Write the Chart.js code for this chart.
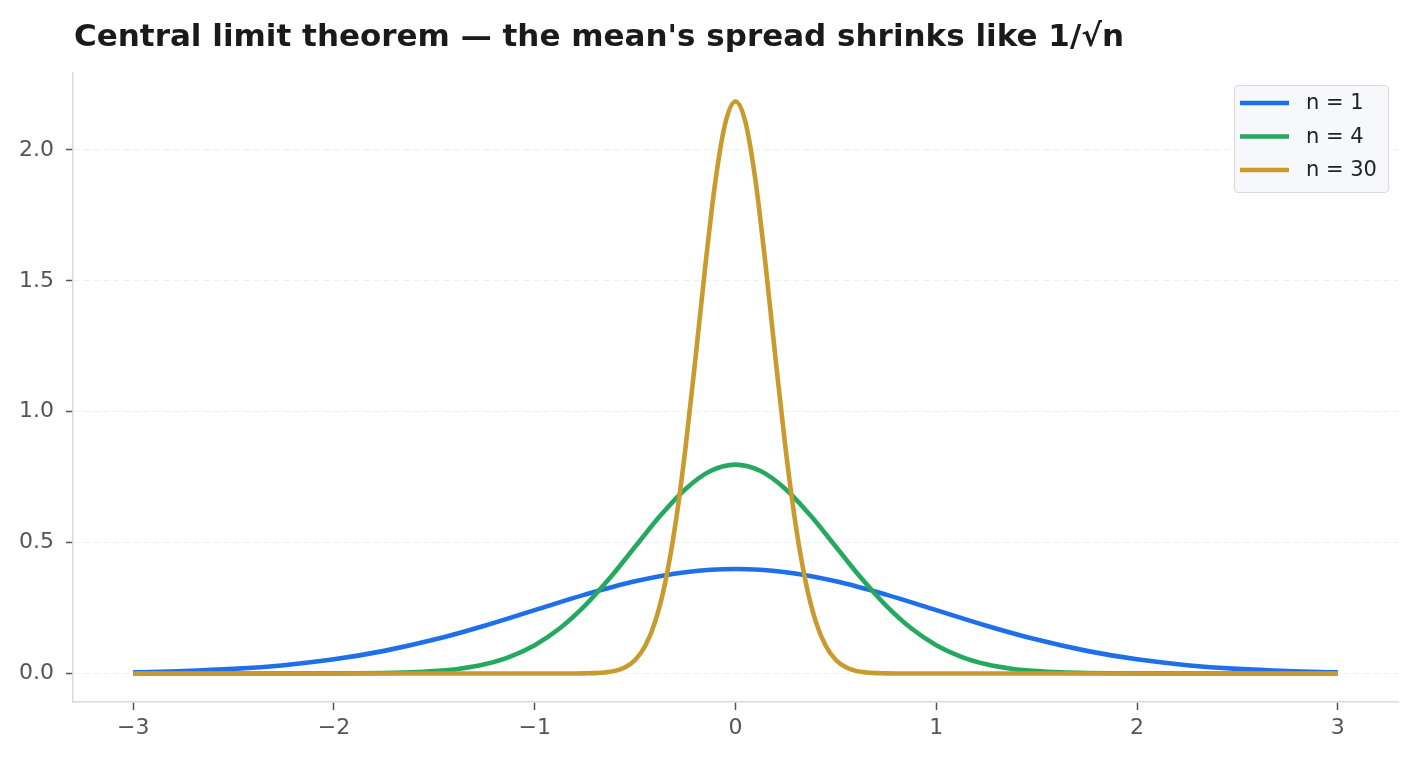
<!DOCTYPE html>
<html>
<head>
<meta charset="utf-8">
<script src="https://cdn.jsdelivr.net/npm/chart.js@4.4.1/dist/chart.umd.min.js"></script>
<style>
html,body{margin:0;padding:0;background:#ffffff;}
#wrap{width:1419px;height:762px;}
</style>
</head>
<body>
<div id="wrap"><canvas id="c" width="1419" height="762"></canvas></div>
<script>
const titleText = "Central limit theorem \u2014 the mean's spread shrinks like 1/\u221An";
const seriesLabels = ["n = 1", "n = 4", "n = 30"];
const xTicks = [-3, -2, -1, 0, 1, 2, 3];
const yTicks = [0.0, 0.5, 1.0, 1.5, 2.0];

const xN1 = [-3, -2.75, -2.5, -2.25, -2, -1.75, -1.5, -1.25, -1, -0.75, -0.5, -0.25, 0,
             0.25, 0.5, 0.75, 1, 1.25, 1.5, 1.75, 2, 2.25, 2.5, 2.75, 3];
const yN1 = [0.0044, 0.0091, 0.0175, 0.0317, 0.0540, 0.0863, 0.1295, 0.1826, 0.2420, 0.3011, 0.3521, 0.3867, 0.3989,
             0.3867, 0.3521, 0.3011, 0.2420, 0.1826, 0.1295, 0.0863, 0.0540, 0.0317, 0.0175, 0.0091, 0.0044];

const xN4 = [-3, -2.5, -2, -1.875, -1.75, -1.625, -1.5, -1.375, -1.25, -1.125, -1, -0.875, -0.75, -0.625, -0.5, -0.375, -0.25, -0.125, 0,
             0.125, 0.25, 0.375, 0.5, 0.625, 0.75, 0.875, 1, 1.125, 1.25, 1.375, 1.5, 1.625, 1.75, 1.875, 2, 2.5, 3];
const yN4 = [0, 0, 0.0003, 0.0007, 0.0017, 0.0041, 0.0089, 0.0182, 0.0350, 0.0635, 0.1080, 0.1725, 0.2590, 0.3653, 0.4839, 0.6022, 0.7041, 0.7734, 0.7979,
             0.7734, 0.7041, 0.6022, 0.4839, 0.3653, 0.2590, 0.1725, 0.1080, 0.0635, 0.0350, 0.0182, 0.0089, 0.0041, 0.0017, 0.0007, 0.0003, 0, 0];

const xN30 = [-3, -2, -1.5, -1, -0.8, -0.75, -0.7, -0.65, -0.6, -0.55, -0.5, -0.45, -0.4, -0.35, -0.3, -0.25, -0.2, -0.15, -0.1, -0.05, 0,
              0.05, 0.1, 0.15, 0.2, 0.25, 0.3, 0.35, 0.4, 0.45, 0.5, 0.55, 0.6, 0.65, 0.7, 0.75, 0.8, 1, 1.5, 2, 3];
const yN30 = [0, 0, 0, 0, 0.0001, 0.0005, 0.0014, 0.0039, 0.0099, 0.0234, 0.0514, 0.1048, 0.1982, 0.3478, 0.5664, 0.8557, 1.1992, 1.5593, 1.8808, 2.1047, 2.1851,
              2.1047, 1.8808, 1.5593, 1.1992, 0.8557, 0.5664, 0.3478, 0.1982, 0.1048, 0.0514, 0.0234, 0.0099, 0.0039, 0.0014, 0.0005, 0.0001, 0, 0, 0, 0];

const colors = ["#1f6fe8", "#25a95e", "#c99a2e"];

function pts(xs, ys) { return xs.map((x, i) => ({x: x, y: ys[i]})); }

const FONT = "'DejaVu Sans', sans-serif";

const titlePlugin = {
  id: 'leftTitle',
  afterDraw(chart) {
    const ctx = chart.ctx;
    ctx.save();
    ctx.font = "bold 31px " + FONT;
    ctx.fillStyle = "#1a1a1a";
    ctx.textBaseline = "alphabetic";
    ctx.textAlign = "left";
    ctx.fillText(titleText, chart.chartArea.left + 1, 46);
    ctx.restore();
  }
};

const legendPlugin = {
  id: 'boxLegend',
  afterDraw(chart) {
    const ctx = chart.ctx;
    const ca = chart.chartArea;
    const w = 154, h = 107;
    const x0 = ca.right - 10 - w, y0 = ca.top + 12;
    ctx.save();
    ctx.beginPath();
    if (ctx.roundRect) ctx.roundRect(x0 + 0.5, y0 + 0.5, w, h, 4); else ctx.rect(x0 + 0.5, y0 + 0.5, w, h);
    ctx.fillStyle = "rgba(245,247,251,0.92)";
    ctx.fill();
    ctx.strokeStyle = "#dcdcdc";
    ctx.lineWidth = 1.2;
    ctx.stroke();
    ctx.font = "21px " + FONT;
    ctx.textBaseline = "middle";
    ctx.textAlign = "left";
    chart.data.datasets.forEach((ds, i) => {
      const cy = y0 + 18 + i * 33.5;
      ctx.strokeStyle = ds.borderColor;
      ctx.lineWidth = 4.5;
      ctx.beginPath();
      ctx.moveTo(x0 + 6, cy);
      ctx.lineTo(x0 + 55, cy);
      ctx.stroke();
      ctx.fillStyle = "#222222";
      ctx.fillText(ds.label, x0 + 72, cy + 1);
    });
    ctx.restore();
  }
};

function fmtX(v) {
  const s = String(Math.abs(v));
  return v < 0 ? "\u2212" + s : s;
}

new Chart(document.getElementById('c'), {
  type: 'line',
  data: {
    datasets: [
      {label: seriesLabels[0], data: pts(xN1, yN1), borderColor: colors[0], order: 3},
      {label: seriesLabels[1], data: pts(xN4, yN4), borderColor: colors[1], order: 2},
      {label: seriesLabels[2], data: pts(xN30, yN30), borderColor: colors[2], order: 1}
    ]
  },
  options: {
    responsive: false,
    animation: false,
    devicePixelRatio: 1,
    parsing: false,
    layout: {padding: {top: 73, right: 21, left: 0, bottom: 0}},
    elements: {
      line: {borderWidth: 4.6, cubicInterpolationMode: 'monotone', fill: false, borderCapStyle: 'butt', borderJoinStyle: 'round'},
      point: {radius: 0, hoverRadius: 0}
    },
    plugins: {legend: {display: false}, title: {display: false}, tooltip: {enabled: false}},
    scales: {
      x: {
        type: 'linear', min: -3.3, max: 3.3,
        afterBuildTicks: s => { s.ticks = xTicks.map(v => ({value: v})); },
        afterFit: s => { s.height = 60; },
        ticks: {callback: v => fmtX(v), font: {family: FONT, size: 22}, color: '#555555', padding: 5, maxRotation: 0, autoSkip: false},
        grid: {drawOnChartArea: false, drawTicks: true, tickLength: 8, tickWidth: 1.5, tickColor: '#555555'},
        border: {color: '#d9d9d9', width: 1.5}
      },
      y: {
        type: 'linear', min: -0.109, max: 2.294,
        afterBuildTicks: s => { s.ticks = yTicks.map(v => ({value: v})); },
        afterFit: s => { s.width = 73; },
        ticks: {callback: v => Number(v).toFixed(1), font: {family: FONT, size: 22}, color: '#555555', padding: 12, autoSkip: false},
        grid: {drawOnChartArea: true, color: '#eeeef4', lineWidth: 1, drawTicks: true, tickLength: 7, tickWidth: 1.5, tickColor: '#555555', tickBorderDash: []},
        border: {color: '#d9d9d9', width: 1.5, dash: [6, 4]}
      }
    }
  },
  plugins: [titlePlugin, legendPlugin]
});
</script>
</body>
</html>
